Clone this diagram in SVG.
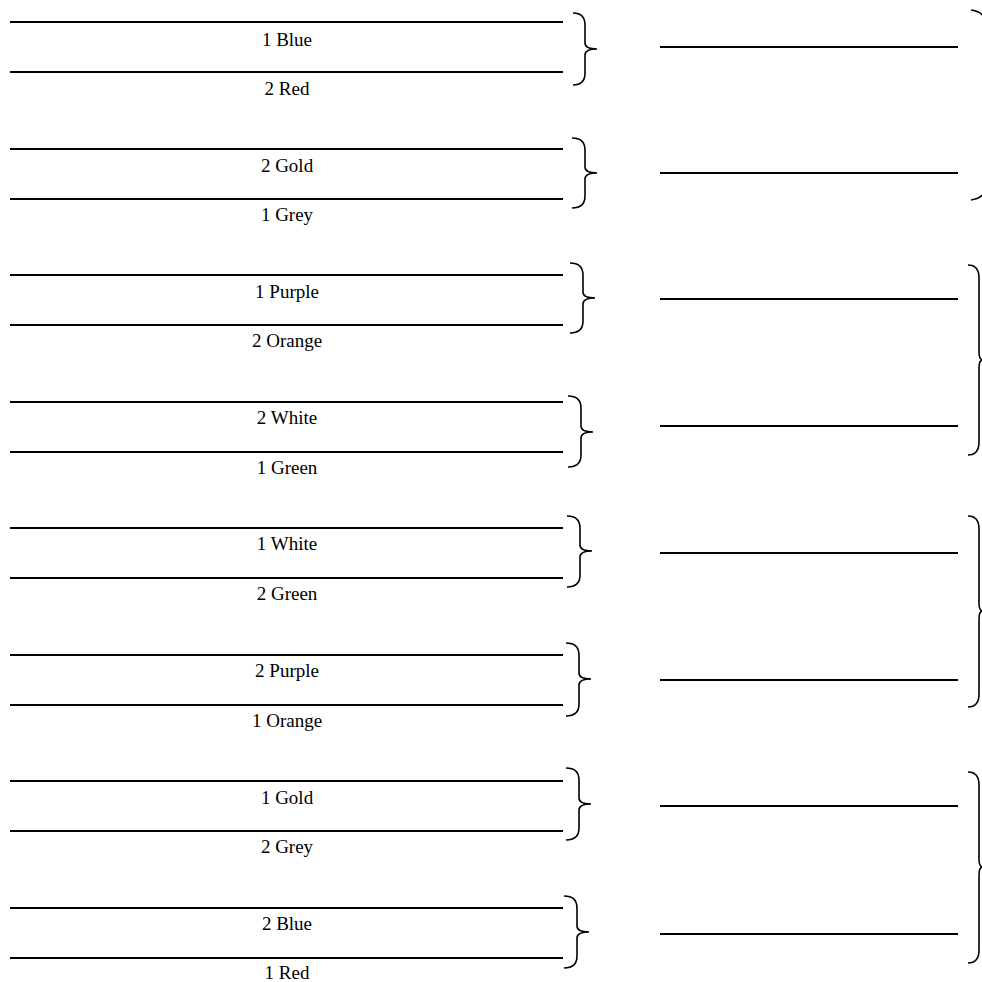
<svg xmlns="http://www.w3.org/2000/svg" width="982" height="982" viewBox="0 0 982 982">
<style>
.ln{stroke:#000;stroke-width:2;fill:none}
.br{stroke:#000;stroke-width:1.6;fill:none}
.t{font-family:"Liberation Serif","Times New Roman",serif;font-size:19px;fill:#000;text-anchor:middle}
</style>
<rect width="982" height="982" fill="#fff"/>
<g id="pair1">
<line class="ln" x1="10" y1="22" x2="563" y2="22"/><line class="ln" x1="10" y1="72" x2="563" y2="72"/>
<text class="t" x="287" y="46">1 Blue</text><text class="t" x="287" y="95">2 Red</text>
<path class="br" d="M573,13 Q585,13 585,25 L585,43 Q585,49 597,49 Q585,49 585,55 L585,73 Q585,85 573,85"/>
</g>
<g id="pair2">
<line class="ln" x1="10" y1="149" x2="563" y2="149"/><line class="ln" x1="10" y1="199" x2="563" y2="199"/>
<text class="t" x="287" y="172">2 Gold</text><text class="t" x="287" y="221">1 Grey</text>
<path class="br" d="M572,138 Q585,138 585,150 L585,167 Q585,173 597,173 Q585,173 585,179 L585,196 Q585,208 572,208"/>
</g>
<g id="pair3">
<line class="ln" x1="10" y1="275" x2="563" y2="275"/><line class="ln" x1="10" y1="325" x2="563" y2="325"/>
<text class="t" x="287" y="298">1 Purple</text><text class="t" x="287" y="347">2 Orange</text>
<path class="br" d="M570,263 Q583,263 583,275 L583,292 Q583,298 595,298 Q583,298 583,304 L583,321 Q583,333 570,333"/>
</g>
<g id="pair4">
<line class="ln" x1="10" y1="402" x2="563" y2="402"/><line class="ln" x1="10" y1="452" x2="563" y2="452"/>
<text class="t" x="287" y="424">2 White</text><text class="t" x="287" y="474">1 Green</text>
<path class="br" d="M568,396 Q581,396 581,408 L581,426 Q581,432 593,432 Q581,432 581,438 L581,455 Q581,467 568,467"/>
</g>
<g id="pair5">
<line class="ln" x1="10" y1="528" x2="563" y2="528"/><line class="ln" x1="10" y1="578" x2="563" y2="578"/>
<text class="t" x="287" y="550">1 White</text><text class="t" x="287" y="600">2 Green</text>
<path class="br" d="M567,516 Q580,516 580,528 L580,545 Q580,551 592,551 Q580,551 580,557 L580,575 Q580,587 567,587"/>
</g>
<g id="pair6">
<line class="ln" x1="10" y1="655" x2="563" y2="655"/><line class="ln" x1="10" y1="705" x2="563" y2="705"/>
<text class="t" x="287" y="677">2 Purple</text><text class="t" x="287" y="727">1 Orange</text>
<path class="br" d="M566,643 Q579,643 579,655 L579,673 Q579,679 591,679 Q579,679 579,685 L579,704 Q579,716 566,716"/>
</g>
<g id="pair7">
<line class="ln" x1="10" y1="781" x2="563" y2="781"/><line class="ln" x1="10" y1="831" x2="563" y2="831"/>
<text class="t" x="287" y="804">1 Gold</text><text class="t" x="287" y="853">2 Grey</text>
<path class="br" d="M566,768 Q579,768 579,780 L579,798 Q579,804 591,804 Q579,804 579,810 L579,828 Q579,840 566,840"/>
</g>
<g id="pair8">
<line class="ln" x1="10" y1="908" x2="563" y2="908"/><line class="ln" x1="10" y1="958" x2="563" y2="958"/>
<text class="t" x="287" y="930">2 Blue</text><text class="t" x="287" y="979">1 Red</text>
<path class="br" d="M564,896 Q577,896 577,908 L577,926 Q577,932 589,932 Q577,932 577,938 L577,956 Q577,968 564,968"/>
</g>
<g id="right-lines">
<line class="ln" x1="660" y1="47" x2="958" y2="47"/>
<line class="ln" x1="660" y1="173" x2="958" y2="173"/>
<line class="ln" x1="660" y1="299" x2="958" y2="299"/>
<line class="ln" x1="660" y1="426" x2="958" y2="426"/>
<line class="ln" x1="660" y1="553" x2="958" y2="553"/>
<line class="ln" x1="660" y1="680" x2="958" y2="680"/>
<line class="ln" x1="660" y1="806" x2="958" y2="806"/>
<line class="ln" x1="660" y1="934" x2="958" y2="934"/>
</g>
<g id="right-braces">
<path class="br" d="M971,10 Q987,12 987,28 L987,97 Q987,105 995,105 Q987,105 987,113 L987,182 Q987,198 971,200"/>
<path class="br" d="M968,265 Q979,265 979,278 L979,352 Q979,360 983,360 Q979,360 979,368 L979,442 Q979,455 968,455"/>
<path class="br" d="M968,516 Q979,516 979,529 L979,603 Q979,611 983,611 Q979,611 979,619 L979,694 Q979,707 968,707"/>
<path class="br" d="M968,772 Q979,772 979,785 L979,859 Q979,867 983,867 Q979,867 979,875 L979,950 Q979,963 968,963"/>
</g>
</svg>
